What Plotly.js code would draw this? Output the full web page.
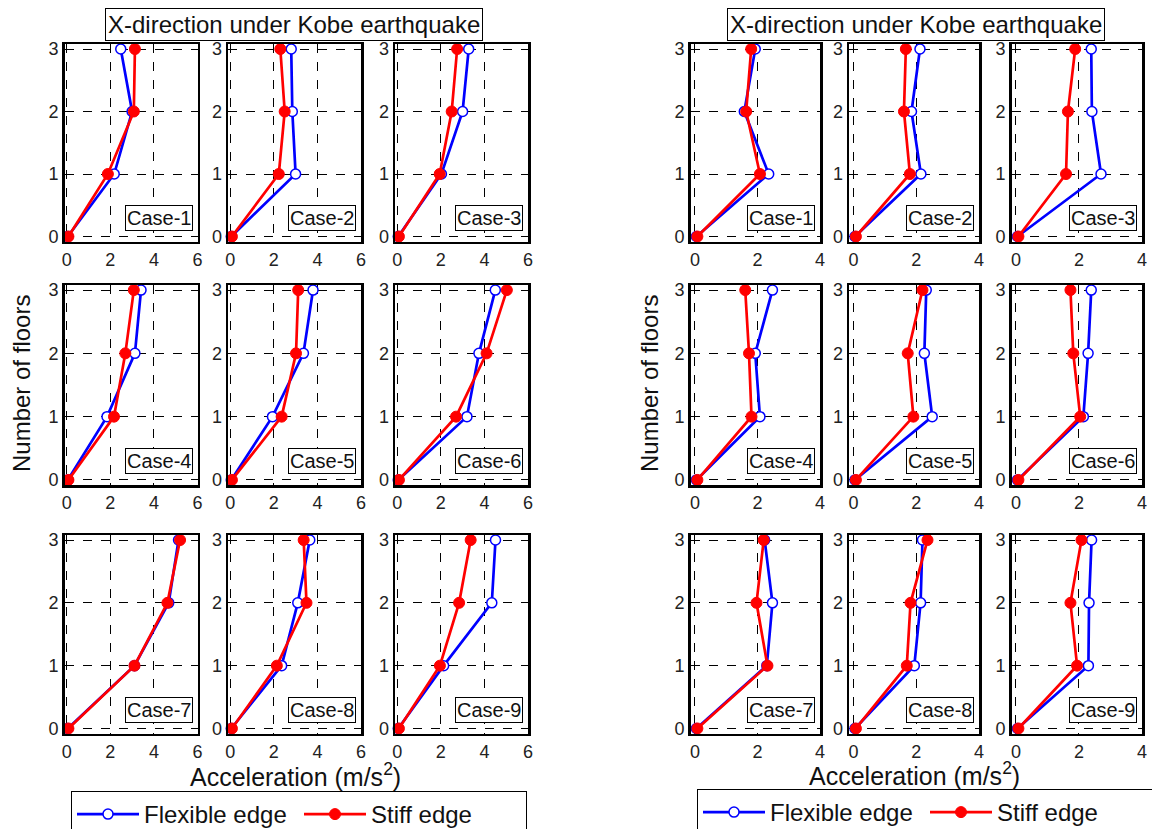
<!DOCTYPE html>
<html><head><meta charset="utf-8">
<script src="https://cdn.plot.ly/plotly-3.0.1.min.js"></script>
<style>body{margin:0;background:#fff}</style>
</head><body><div id="chart" style="width:1152px;height:829px"></div>
<script>
// ---- data ----
const floors = [0, 1, 2, 3];
const caseLabels = ['Case-1','Case-2','Case-3','Case-4','Case-5','Case-6','Case-7','Case-8','Case-9'];
const xTicksLeft = [0, 2, 4, 6];
const xTicksRight = [0, 2, 4];
const yTicks = [0, 1, 2, 3];
const seriesNames = ['Flexible edge', 'Stiff edge'];
const panelTitle = 'X-direction under Kobe earthquake';

// left group (acceleration per floor 0..3)
const leftFlexible = [
  [0.05, 2.18, 3.00, 2.48],
  [0.05, 3.00, 2.85, 2.80],
  [0.05, 2.03, 3.00, 3.28],
  [0.05, 1.85, 3.13, 3.41],
  [0.05, 1.94, 3.36, 3.80],
  [0.05, 3.20, 3.75, 4.50],
  [0.05, 3.11, 4.68, 5.13],
  [0.05, 2.36, 3.10, 3.65],
  [0.05, 2.13, 4.34, 4.51]
];
const leftStiff = [
  [0.08, 1.89, 3.08, 3.13],
  [0.08, 2.23, 2.50, 2.30],
  [0.08, 1.95, 2.50, 2.75],
  [0.08, 2.17, 2.69, 3.08],
  [0.08, 2.36, 3.02, 3.12],
  [0.08, 2.70, 4.10, 5.03],
  [0.08, 3.11, 4.62, 5.20],
  [0.08, 2.14, 3.50, 3.37],
  [0.08, 1.96, 2.84, 3.37]
];
// right group
const rightFlexible = [
  [0.05, 2.36, 1.58, 1.93],
  [0.05, 2.15, 1.85, 2.12],
  [0.05, 2.70, 2.41, 2.39],
  [0.05, 2.08, 1.93, 2.48],
  [0.05, 2.51, 2.26, 2.32],
  [0.05, 2.14, 2.29, 2.39],
  [0.05, 2.30, 2.48, 2.23],
  [0.05, 1.94, 2.14, 2.20],
  [0.05, 2.30, 2.32, 2.40]
];
const rightStiff = [
  [0.08, 2.08, 1.64, 1.80],
  [0.08, 1.80, 1.61, 1.67],
  [0.08, 1.59, 1.65, 1.88],
  [0.08, 1.81, 1.73, 1.61],
  [0.08, 1.91, 1.73, 2.20],
  [0.08, 2.04, 1.82, 1.73],
  [0.08, 2.32, 1.97, 2.20],
  [0.08, 1.70, 1.82, 2.36],
  [0.08, 1.94, 1.73, 2.08]
];

// ---- layout geometry ----
const W = 1152, H = 829;
const FONT = 'Liberation Sans, Arial, sans-serif';
const groups = [
  {flex: leftFlexible, stiff: leftStiff, cols: [[64.5,197.5],[228,361],[395,528]], range: [-0.1, 6.0], ticks: xTicksLeft, legend: 'legend'},
  {flex: rightFlexible, stiff: rightStiff, cols: [[690.5,820],[849,979],[1011.5,1142]], range: [-0.14, 4.0], ticks: xTicksRight, legend: 'legend2'}
];
const rows = [[44,241.5],[285,485],[535,733.5]];

const data = [];
const layout = {
  width: W, height: H,
  margin: {l:0, r:0, t:0, b:0, autoexpand: false},
  paper_bgcolor: 'white', plot_bgcolor: 'white',
  font: {family: FONT, color: '#111'},
  annotations: [], showlegend: true
};

groups.forEach((g, gi) => {
  for (let i = 0; i < 9; i++) {
    const r = Math.floor(i / 3), c = i % 3;
    const n = gi * 9 + i + 1;
    const xa = 'x' + (n === 1 ? '' : n), ya = 'y' + (n === 1 ? '' : n);
    const xk = 'xaxis' + (n === 1 ? '' : n), yk = 'yaxis' + (n === 1 ? '' : n);
    layout[xk] = {
      domain: [g.cols[c][0] / W, g.cols[c][1] / W], anchor: ya,
      range: g.range, tickvals: g.ticks, ticktext: g.ticks.map(String),
      showgrid: true, gridcolor: '#000', griddash: 'dash', gridwidth: 1,
      showline: true, linecolor: '#000', linewidth: 2.5, mirror: true,
      zeroline: false, ticks: '', tickfont: {size: 18, color: '#222', family: FONT},
      automargin: false, fixedrange: true
    };
    layout[yk] = {
      domain: [1 - rows[r][1] / H, 1 - rows[r][0] / H], anchor: xa,
      range: [-0.08, 3.08], tickvals: yTicks, ticktext: yTicks.map(String),
      showgrid: true, gridcolor: '#000', griddash: 'dash', gridwidth: 1,
      showline: true, linecolor: '#000', linewidth: 2.5, mirror: true,
      zeroline: false, ticks: '', tickfont: {size: 18, color: '#222', family: FONT},
      automargin: false, fixedrange: true
    };
    data.push({
      type: 'scatter', mode: 'lines+markers', x: g.flex[i], y: floors,
      xaxis: xa, yaxis: ya, name: seriesNames[0], legend: g.legend,
      showlegend: i === 0, cliponaxis: false,
      line: {color: '#0000ff', width: 2.7},
      marker: {symbol: 'circle', size: 10, color: '#ffffff', line: {color: '#0000ff', width: 1.5}}
    });
    data.push({
      type: 'scatter', mode: 'lines+markers', x: g.stiff[i], y: floors,
      xaxis: xa, yaxis: ya, name: seriesNames[1], legend: g.legend,
      showlegend: i === 0, cliponaxis: false,
      line: {color: '#ff0000', width: 2.7},
      marker: {symbol: 'circle', size: 11, color: '#ff0000', line: {color: '#ff0000', width: 1}}
    });
    layout.annotations.push({
      xref: xa + ' domain', yref: ya + ' domain', x: 0.965, y: 0.055,
      xanchor: 'right', yanchor: 'bottom', text: caseLabels[i], showarrow: false,
      font: {size: 20, color: '#111', family: FONT},
      bordercolor: '#000', borderwidth: 1, borderpad: 1, bgcolor: 'white'
    });
  }
});

// panel titles
[[294, 24], [916, 24]].forEach(p => {
  layout.annotations.push({
    xref: 'paper', yref: 'paper', x: p[0] / W, y: 1 - p[1] / H,
    xanchor: 'center', yanchor: 'middle', text: panelTitle, showarrow: false,
    font: {size: 24, color: '#111', family: FONT},
    bordercolor: '#000', borderwidth: 1, borderpad: 2, bgcolor: 'white'
  });
});
// y titles
[[22, 384], [650, 384]].forEach(p => {
  layout.annotations.push({
    xref: 'paper', yref: 'paper', x: p[0] / W, y: 1 - p[1] / H,
    xanchor: 'center', yanchor: 'middle', text: 'Number of floors', textangle: -90,
    showarrow: false, font: {size: 24, color: '#111', family: FONT}
  });
});
// x titles
[[295, 775], [914, 774]].forEach(p => {
  layout.annotations.push({
    xref: 'paper', yref: 'paper', x: p[0] / W, y: 1 - p[1] / H,
    xanchor: 'center', yanchor: 'middle', text: 'Acceleration (m/s<sup>2</sup>)',
    showarrow: false, font: {size: 25, color: '#111', family: FONT}
  });
});

const legendBase = {
  orientation: 'h', xanchor: 'left', yanchor: 'top',
  bordercolor: '#000', borderwidth: 1, bgcolor: 'white',
  font: {size: 24, color: '#111', family: FONT}, itemwidth: 62, tracegroupgap: 0,
  entrywidth: 150, entrywidthmode: 'pixels'
};
layout.legend = Object.assign({}, legendBase, {x: 71 / W, y: 1 - 791 / H});
layout.legend2 = Object.assign({}, legendBase, {x: 697 / W, y: 1 - 789 / H});

Plotly.newPlot('chart', data, layout, {staticPlot: true, displayModeBar: false});
</script>
</body></html>
